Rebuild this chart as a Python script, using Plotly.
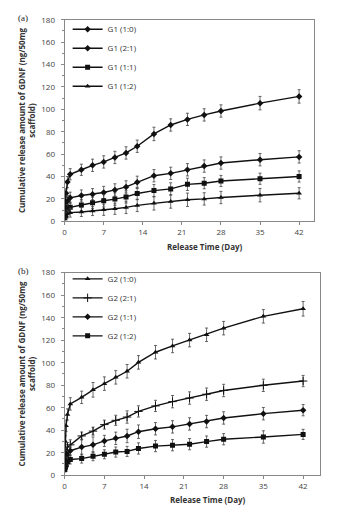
import plotly.graph_objects as go

W, H = 346, 514

days = [0.04, 0.125, 0.25, 0.5, 1, 3, 5, 7, 9, 11, 13, 16, 19, 22, 25, 28, 35, 42]

g1_names = ["G1 (1:0)", "G1 (2:1)", "G1 (1:1)", "G1 (1:2)"]
g1_10 = [10, 18, 25, 35, 42, 46, 50, 53, 57, 61, 67, 78, 86, 91, 95, 98.5, 105.5, 111.5]
g1_21 = [6, 10, 14, 18, 21, 23, 24.2, 25.7, 28, 30.7, 34.8, 40.7, 42.8, 46, 49.3, 52, 55, 57.5]
g1_11 = [4, 7, 9, 11, 12.5, 14.5, 16.5, 18.3, 19.8, 21.8, 24.8, 27.4, 28.9, 33, 34, 36, 38, 40]
g1_12 = [2, 4, 5, 6.5, 7.7, 8.3, 9.1, 10.3, 11.2, 12.4, 14.2, 16, 17.7, 19.2, 20, 21.2, 23.3, 25]
g1_err = [
    [3, 4, 4, 5, 5, 5, 5.5, 5.5, 5.5, 5.5, 5.5, 6, 5.5, 5.5, 5.5, 5.5, 6, 6],
    [3, 4, 4, 5, 5, 5, 5, 5.5, 5.5, 5.5, 5.5, 5.5, 5.5, 5.5, 5.5, 5.5, 5.5, 5.5],
    [2, 3, 3, 4, 4.5, 5, 5, 5.5, 5.5, 5.5, 5.5, 5.5, 5.5, 5.5, 5, 5, 5, 5],
    [2, 2, 3, 3.5, 4, 4, 4, 5, 5, 5.5, 5.5, 6, 6, 6, 5.5, 5.5, 6, 5],
]
g1_vals = [g1_10, g1_21, g1_11, g1_12]
g1_symbols = ["diamond", "diamond", "square", "triangle-up"]

g2_names = ["G2 (1:0)", "G2 (2:1)", "G2 (1:1)", "G2 (1:2)"]
g2_10 = [15, 30, 44, 54, 63.4, 69.2, 75.9, 81.4, 87, 92.4, 100.3, 109.3, 114.9, 120.1, 124.8, 130.7, 141.2, 147.9]
g2_21 = [8, 14, 20, 25, 27, 34.9, 39.2, 45, 48.8, 51.7, 56.7, 61.6, 65.4, 68.6, 72, 75.3, 79.9, 83.7]
g2_11 = [6, 10, 14, 18, 21.8, 25, 27, 30.5, 32.8, 34.9, 38.7, 41.3, 43, 45.6, 47.7, 50.9, 54.7, 57.8]
g2_12 = [5, 7, 9, 12, 14, 14.8, 16.9, 18.6, 20.6, 21.2, 23.8, 25.9, 26.7, 27.6, 29.9, 32, 34, 36.3]
g2_err = [
    [4, 5, 5, 5, 5.5, 5.5, 6.5, 6, 6, 6, 6, 6, 6, 6, 6, 6, 6, 6.5],
    [3, 4, 4, 4, 4.5, 3.5, 3.5, 4, 4.5, 5.5, 5, 5, 5.5, 5.5, 5.5, 5.5, 5.5, 5],
    [3, 4, 4, 4, 4.5, 7, 7, 5, 5.5, 6, 6, 5.5, 5.5, 5.5, 5.5, 5.5, 5.5, 5],
    [2, 3, 3, 4, 4, 4, 4, 4, 4.5, 4.5, 5, 5, 5, 5, 5, 5, 5.5, 4.5],
]
g2_vals = [g2_10, g2_21, g2_11, g2_12]
g2_symbols = ["triangle-up", "cross-thin", "diamond", "square"]

y_ticks = list(range(0, 181, 20))
x_ticks = [0, 7, 14, 21, 28, 35, 42]

FONT = "Open Sans"
fig = go.Figure()

def add_panel(names, vals, errs, symbols, xa, ya, leg):
    for n, v, e, s in zip(names, vals, errs, symbols):
        fig.add_trace(go.Scatter(
            x=days, y=v, name=n, mode="lines+markers",
            xaxis=xa, yaxis=ya, legend=leg,
            line=dict(color="#111", width=1.4),
            marker=dict(symbol=s, size=5 if s != "cross-thin" else 6, color="#111",
                        line=dict(color="#111", width=1 if s == "cross-thin" else 0)),
            error_y=dict(type="data", array=e, visible=True, color="#444",
                         thickness=0.8, width=1.5),
        ))

add_panel(g1_names, g1_vals, g1_err, g1_symbols, "x", "y", "legend")
add_panel(g2_names, g2_vals, g2_err, g2_symbols, "x2", "y2", "legend2")

axis_common = dict(showline=True, linecolor="#888", linewidth=1, mirror=True,
                   showgrid=False, zeroline=False, ticks="outside", ticklen=3,
                   tickcolor="#888", tickfont=dict(family=FONT, size=8, color="#444"))

ytitle = "<b>Cumulative release amount of GDNF (ng/50mg<br>scaffold)</b>"
xtitle = "<b>Release Time (Day)</b>"

fig.update_layout(
    width=W, height=H, margin=dict(l=0, r=0, t=0, b=0),
    paper_bgcolor="white", plot_bgcolor="white",
    font=dict(family=FONT, size=8, color="#333"),
    xaxis=dict(domain=[63 / W, 314 / W], range=[0, 44.7], tickvals=x_ticks,
               anchor="y", **axis_common),
    yaxis=dict(domain=[1 - 220 / H, 1 - 14 / H], range=[0, 180], tickvals=y_ticks,
               anchor="x", ticklabelstandoff=4,
               title=dict(text=ytitle, font=dict(size=8, color="#333"), standoff=4),
               minor=dict(ticks="outside", ticklen=2, tickcolor="#888", dtick=10),
               **axis_common),
    xaxis2=dict(domain=[63 / W, 320 / W], range=[0, 45], tickvals=x_ticks,
                anchor="y2", **axis_common),
    yaxis2=dict(domain=[1 - 479.5 / H, 1 - 272.5 / H], range=[0, 180], tickvals=y_ticks,
                anchor="x2", ticklabelstandoff=4,
                title=dict(text=ytitle, font=dict(size=8, color="#333"), standoff=4),
                minor=dict(ticks="outside", ticklen=2, tickcolor="#888", dtick=10),
                **axis_common),
    legend=dict(x=66 / W, y=1 - 9 / H, xanchor="left", yanchor="top",
                bgcolor="rgba(0,0,0,0)", font=dict(family=FONT, size=8, color="#333"),
                itemwidth=30, tracegroupgap=0),
    legend2=dict(x=66 / W, y=1 - 264 / H, xanchor="left", yanchor="top",
                 bgcolor="rgba(0,0,0,0)", font=dict(family=FONT, size=8, color="#333"),
                 itemwidth=30, tracegroupgap=0),
    annotations=[
        dict(text="(a)", x=14 / W, y=1 - 12 / H, xref="paper", yref="paper",
             showarrow=False, xanchor="left", yanchor="middle",
             font=dict(family="Liberation Serif", size=9, color="#222")),
        dict(text="(b)", x=14 / W, y=1 - 271 / H, xref="paper", yref="paper",
             showarrow=False, xanchor="left", yanchor="middle",
             font=dict(family="Liberation Serif", size=9, color="#222")),
        dict(text=xtitle, x=204 / W, y=1 - 245.5 / H, xref="paper", yref="paper",
             showarrow=False, xanchor="center", yanchor="middle",
             font=dict(family=FONT, size=8, color="#333")),
        dict(text=xtitle, x=207 / W, y=1 - 504 / H, xref="paper", yref="paper",
             showarrow=False, xanchor="center", yanchor="middle",
             font=dict(family=FONT, size=8, color="#333")),
    ],
)

fig.write_html("out.html")
